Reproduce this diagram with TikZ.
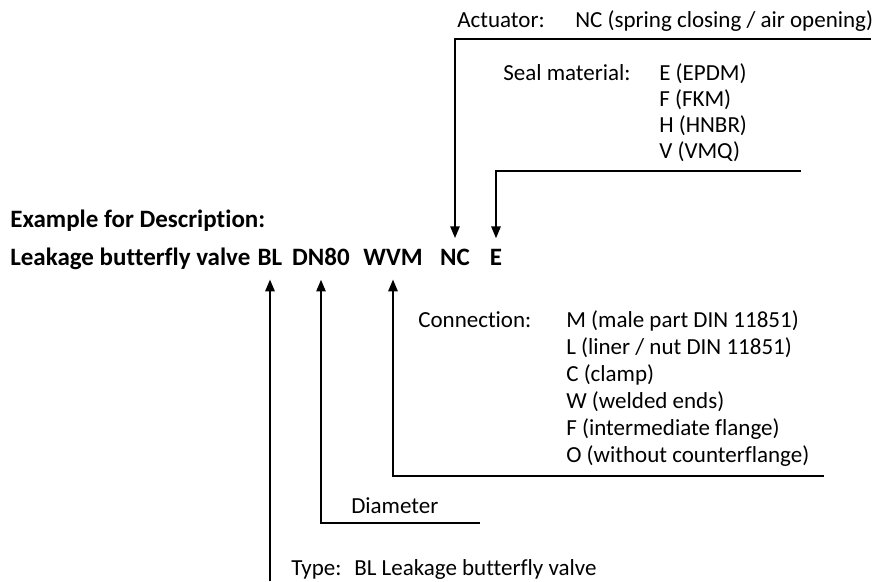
\documentclass[tikz,border=0pt]{standalone}
\usepackage{fontspec}
\setmainfont{Carlito}[Ligatures=NoCommon]
\usetikzlibrary{arrows.meta}

\begin{document}
\begin{tikzpicture}[x=1pt, y=-1pt, >={Triangle[width=9pt, length=12pt]}, line width=2.6pt,
    txt/.style={anchor=base west, inner sep=0pt, font=\fontsize{23}{27}\selectfont},
    boldtxt/.style={anchor=base west, inner sep=0pt, font=\fontsize{25}{30}\selectfont\bfseries},
    codepart/.style={anchor=base, inner sep=0pt, font=\fontsize{25}{30}\selectfont\bfseries}]
    % Page frame with the margins of the original
    \useasboundingbox (0,0) rectangle (886,581);

    % 1. Title and the type code
    \node[boldtxt] (title) at (9,227) {Example\ for Description:};
    \node[boldtxt] (name) at (9,265) {Leakage butterfly valve};
    \node[codepart] (bl) at (270,265) {BL};
    \node[codepart] (dn) at (321,265) {DN80};
    \node[codepart] (wvm) at (393,265) {WVM};
    \node[codepart] (nc) at (455,265) {NC};
    \node[codepart] (e) at (496,265) {E};

    % 2. Actuator
    \node[txt] (act) at (456,27) {Actuator:};
    \node[txt] (actval) at (574,27) {NC (spring closing / air opening)};
    \coordinate (actend) at (871,39);
    \draw[->, shorten >=9pt] (actend) -| (nc.north);

    % 3. Seal material
    \node[txt] (seal) at (502,80) {Seal material:};
    \node[txt] (sealE) at (658,80) {E (EPDM)};
    \node[txt] (sealF) at (658,106) {F (FKM)};
    \node[txt] (sealH) at (658,132) {H (HNBR)};
    \node[txt] (sealV) at (658,158) {V (VMQ)};
    \coordinate (sealend) at (801,171);
    \draw[->, shorten >=9pt] (sealend) -| (e.north);

    % 4. Connection
    \node[txt] (con) at (417,327) {Connection:};
    \node[txt] (conM) at (565,327) {M (male part DIN 11851)};
    \node[txt] (conL) at (565,354) {L (liner / nut DIN 11851)};
    \node[txt] (conC) at (565,381) {C (clamp)};
    \node[txt] (conW) at (565,408) {W (welded ends)};
    \node[txt] (conF) at (565,435) {F (intermediate flange)};
    \node[txt] (conO) at (565,462) {O (without counterflange)};
    \coordinate (conend) at (824,476);
    \draw[->, shorten >=13pt] (conend) -| (wvm.south);

    % 5. Diameter
    \node[txt] (dia) at (350,513) {Diameter};
    \coordinate (diaend) at (480,523);
    \draw[->, shorten >=13pt] (diaend) -| (dn.south);

    % 6. Type
    \node[txt] (type) at (290,575) {Type:};
    \node[txt] (typeval) at (353,575) {BL Leakage butterfly valve};
    \coordinate (typeend) at (270,581);
    \draw[->, shorten >=13pt] (typeend) -- (bl.south);

\end{tikzpicture}
\end{document}
